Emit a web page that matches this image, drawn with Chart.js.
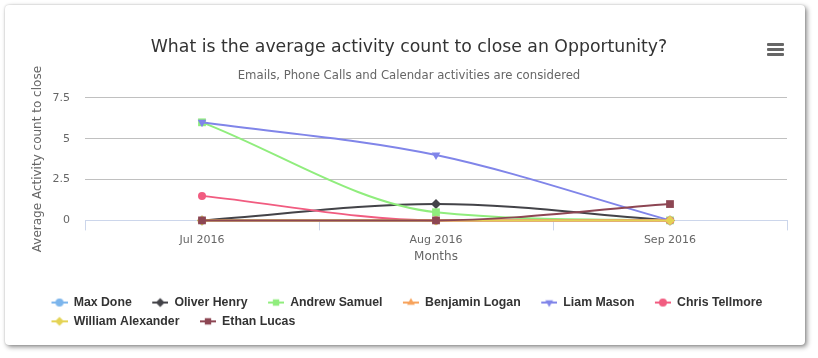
<!DOCTYPE html>
<html><head><meta charset="utf-8">
<script src="https://cdn.jsdelivr.net/npm/chart.js@4/dist/chart.umd.min.js"></script>
<style>
html,body{margin:0;padding:0;background:#fff;width:818px;height:358px;overflow:hidden;}
#card{position:absolute;left:5px;top:5px;width:800px;height:340px;background:#fff;border-radius:4px;box-shadow:2px 2px 5px rgba(0,0,0,0.45),0 0 2px rgba(0,0,0,0.2);}
#wrap{position:absolute;left:0;top:0;width:818px;height:358px;}
#menu{position:absolute;left:767px;top:43px;width:17px;}
#menu div{height:3px;background:#666;margin-bottom:2px;border-radius:1px;}
</style></head><body>
<div id="card"></div>
<div id="wrap"><canvas id="c" width="818" height="358"></canvas></div>
<div id="menu"><div></div><div></div><div></div></div>
<script>
// ---- data ----
const categories = ['Jul 2016', 'Aug 2016', 'Sep 2016'];
const yTickValues = [0, 2.5, 5, 7.5];
const seriesNames = ['Max Done', 'Oliver Henry', 'Andrew Samuel', 'Benjamin Logan', 'Liam Mason', 'Chris Tellmore', 'William Alexander', 'Ethan Lucas'];
const maxDone = [0, 0, 0];
const oliverHenry = [0, 1, 0];
const andrewSamuel = [6, 0.5, 0];
const benjaminLogan = [0, 0, 0];
const liamMason = [6, 4, 0];
const chrisTellmore = [1.5, 0, 0];
const williamAlexander = [0, 0, 0];
const ethanLucas = [0, 0, 1];
const seriesValues = [maxDone, oliverHenry, andrewSamuel, benjaminLogan, liamMason, chrisTellmore, williamAlexander, ethanLucas];

// ---- styles ----
const colors = ['#7cb5ec', '#434348', '#90ed7d', '#f7a35c', '#8085e9', '#f15c80', '#e4d354', '#8d4653'];
const styles = ['circle', 'rectRot', 'rect', 'triangle', 'triangle', 'circle', 'rectRot', 'rect'];
const rotations = [0, 0, 0, 0, 180, 0, 0, 0];
const radii = [4, 5, 5.5, 5, 5, 4, 5, 5.5];

const FONT = '"DejaVu Sans", Verdana, sans-serif';
const LEGEND_FONT = '"Liberation Sans", Arial, Helvetica, sans-serif';
Chart.defaults.font.family = FONT;

const ICON_W = 30, ICON_H = 12;
function makeIcon(i) {
  const cv = document.createElement('canvas');
  cv.width = ICON_W; cv.height = ICON_H;
  const ctx = cv.getContext('2d');
  ctx.strokeStyle = colors[i];
  ctx.lineWidth = 2;
  ctx.beginPath();
  ctx.moveTo(ICON_W - 16, ICON_H / 2);
  ctx.lineTo(ICON_W, ICON_H / 2);
  ctx.stroke();
  ctx.fillStyle = colors[i];
  ctx.lineWidth = 0.01;
  Chart.helpers.drawPoint(ctx, {pointStyle: styles[i], rotation: rotations[i], radius: Math.min(radii[i], 4.5), borderWidth: 0}, ICON_W - 8, ICON_H / 2);
  return cv;
}
const icons = seriesNames.map((n, i) => makeIcon(i));

const datasets = seriesNames.map((name, i) => ({
  label: name,
  data: seriesValues[i],
  borderColor: colors[i],
  backgroundColor: colors[i],
  borderWidth: 2,
  pointStyle: styles[i],
  pointRotation: rotations[i],
  pointRadius: radii[i],
  pointBorderWidth: 0,
  pointBackgroundColor: colors[i],
  cubicInterpolationMode: 'monotone',
  fill: false,
  clip: false,
  order: seriesNames.length - i
}));

new Chart(document.getElementById('c'), {
  type: 'line',
  data: {labels: categories, datasets},
  options: {
    responsive: false,
    animation: false,
    devicePixelRatio: 1,
    layout: {padding: {left: 31, right: 31, top: 0, bottom: 20.5}},
    plugins: {
      tooltip: {enabled: false},
      title: {
        display: true,
        text: 'What is the average activity count to close an Opportunity?',
        color: '#333333',
        font: {size: 17.3, weight: 'normal', family: FONT},
        padding: {top: 37, bottom: 0}
      },
      subtitle: {
        display: true,
        text: 'Emails, Phone Calls and Calendar activities are considered',
        color: '#666666',
        font: {size: 11.7, weight: 'normal', family: FONT},
        padding: {top: 11, bottom: 15}
      },
      legend: {
        position: 'bottom',
        align: 'start',
        labels: {
          usePointStyle: true,
          pointStyleWidth: ICON_W,
          padding: 6.5,
          color: '#333333',
          font: {size: 12.3, weight: 'bold', family: LEGEND_FONT},
          generateLabels: (chart) => chart.data.datasets.map((ds, i) => ({
            text: ds.label,
            fillStyle: colors[i],
            strokeStyle: colors[i],
            lineWidth: 0,
            pointStyle: icons[i],
            rotation: 0,
            hidden: !chart.isDatasetVisible(i),
            datasetIndex: i,
            fontColor: '#333333'
          }))
        }
      }
    },
    scales: {
      x: {
        type: 'category',
        offset: true,
        afterFit: (scale) => { scale.height = 69.5; },
        grid: {
          offset: true,
          drawOnChartArea: false,
          drawTicks: true,
          tickLength: 10,
          color: '#ccd6eb',
          lineWidth: 1
        },
        border: {display: true, color: '#ccd6eb', width: 1},
        ticks: {color: '#666666', font: {size: 11}, padding: 3, maxRotation: 0},
        title: {
          display: true,
          text: 'Months',
          color: '#666666',
          font: {size: 12},
          padding: {top: 2, bottom: 25.5}
        }
      },
      y: {
        min: 0,
        max: 7.5,
        afterBuildTicks: (scale) => { scale.ticks = yTickValues.map(v => ({value: v})); },
        afterFit: (scale) => { scale.width = 54; },
        grid: {
          drawTicks: false,
          color: (ctx) => (ctx.tick && ctx.tick.value === 0) ? 'rgba(0,0,0,0)' : '#c0c0c0',
          lineWidth: 1
        },
        border: {display: false},
        ticks: {color: '#666666', font: {size: 11}, padding: 15},
        title: {
          display: true,
          text: 'Average Activity count to close',
          color: '#666666',
          font: {size: 12},
          padding: {top: 0, bottom: 0}
        }
      }
    }
  }
});
</script>
</body></html>
